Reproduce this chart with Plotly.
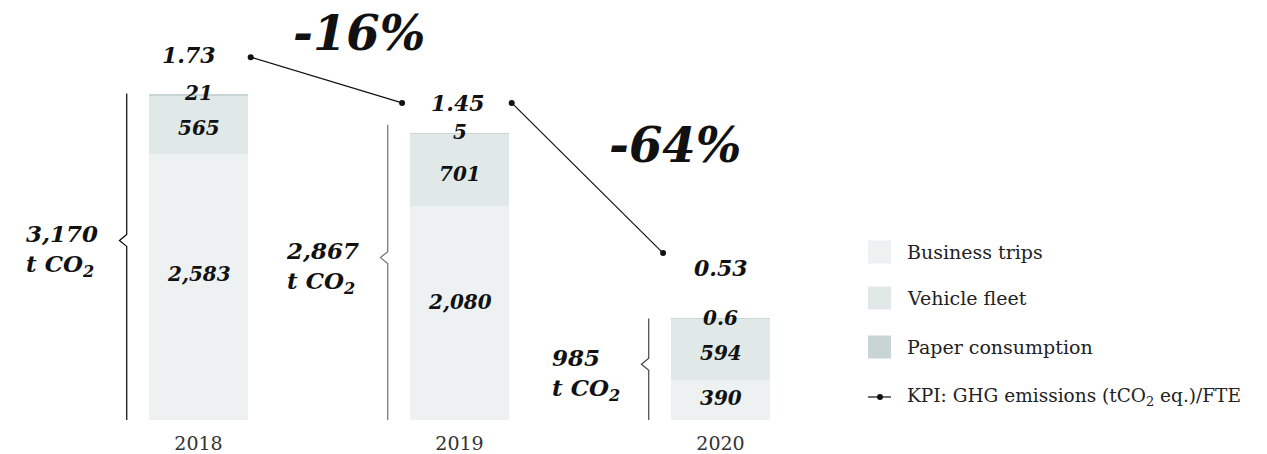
import plotly.graph_objects as go

# ---- data -------------------------------------------------------------
years = ["2018", "2019", "2020"]
business_trips = [2583, 2080, 390]
vehicle_fleet = [565, 701, 594]
paper_consumption = [21, 5, 0.6]
total_values = [3170, 2867, 985]
total_labels = ["3,170", "2,867", "985"]
kpi_values = [1.73, 1.45, 0.53]
kpi_changes = ["-16%", "-64%"]
series_names = ["Business trips", "Vehicle fleet", "Paper consumption"]
kpi_name = "KPI: GHG emissions (tCO<sub>2</sub> eq.)/FTE"

# ---- layout constants -------------------------------------------------
W, H = 1267, 454
PLOT_H = 420            # plot area height; the rest holds the year labels
X0_PX, X_UNIT = 198.5, 261.0
Y_MAX = 4078
BAR_W = 0.383

colors = ["#eef1f1", "#e1e9e8", "#c8d5d4"]
INK = "#111111"
BOLD = "DejaVu Serif"
REG = "DejaVu Serif"

xs = list(range(len(years)))


def fmt(v):
    return f"{int(v):,}" if float(v).is_integer() else f"{v}"


def px_x(px):
    return px / W


def px_y(py):
    return 1 - py / PLOT_H


fig = go.Figure()

# stacked bars
for name, vals, col in zip(series_names,
                           [business_trips, vehicle_fleet, paper_consumption],
                           colors):
    fig.add_trace(go.Bar(x=xs, y=vals, name=name, width=BAR_W,
                         marker=dict(color=col, line=dict(width=0)),
                         showlegend=False, hoverinfo="skip"))

# KPI line: two segments between neighbouring years
kpi_start, kpi_end = 0.2, 0.22
for i in range(len(kpi_values) - 1):
    fig.add_trace(go.Scatter(
        x=[i + kpi_start, i + 1 - kpi_end],
        y=[kpi_values[i], kpi_values[i + 1]],
        yaxis="y2", mode="lines+markers",
        line=dict(color=INK, width=1.2),
        marker=dict(color=INK, size=6),
        showlegend=False, hoverinfo="skip"))

annotations = []
shapes = []


def bold_font(size):
    return dict(family=BOLD, size=size, color=INK, weight="bold",
                style="italic")


# segment value labels
for i in xs:
    b, v, p = business_trips[i], vehicle_fleet[i], paper_consumption[i]
    annotations.append(dict(x=i, y=b * 0.55, xref="x", yref="y",
                            text=fmt(b), showarrow=False, font=bold_font(20)))
    annotations.append(dict(x=i, y=b + v * 0.44, xref="x", yref="y",
                            text=fmt(v), showarrow=False, font=bold_font(20)))
    annotations.append(dict(x=i, y=b + v + p, xref="x", yref="y",
                            text=fmt(p), showarrow=False, yshift=1,
                            font=bold_font(20)))

# KPI value labels
kpi_shift = [(-10, 2), (-2, 0), (0, -15)]
for i, val in enumerate(kpi_values):
    annotations.append(dict(x=i, y=val, xref="x", yref="y2",
                            text=f"{val:.2f}", showarrow=False,
                            xanchor="center", yanchor="middle",
                            xshift=kpi_shift[i][0], yshift=kpi_shift[i][1],
                            font=bold_font(22)))

# change labels
change_pos = [(359, 33), (675, 145)]
for txt, (cx, cy) in zip(kpi_changes, change_pos):
    annotations.append(dict(x=px_x(cx), y=px_y(cy), xref="paper", yref="paper",
                            xanchor="center", yanchor="middle",
                            text=txt, showarrow=False, font=bold_font(48)))

# braces with totals
brace_colors = ["#000000", "#707070", "#444444"]
dx, dy = 0.028, 58
for i, (tot, lab) in enumerate(zip(total_values, total_labels)):
    bx = i - 0.275
    ny = tot * 0.55
    path = (f"M {bx},{tot} L {bx},{ny + dy} L {bx - dx},{ny} "
            f"L {bx},{ny - dy} L {bx},0")
    shapes.append(dict(type="path", path=path, xref="x", yref="y",
                       line=dict(color=brace_colors[i], width=1.2)))
    annotations.append(dict(x=bx, y=ny, xref="x", yref="y",
                            text=f"{lab}<br>t CO<sub>2</sub>",
                            showarrow=False, align="left",
                            xanchor="right", xshift=-27,
                            yanchor="middle", yshift=-10,
                            font=bold_font(23)))

# legend
leg_x0, leg_x1, leg_tx = 868, 891, 905
leg_y = [252, 298, 347, 397]
for name, col, cy in zip(series_names, colors, leg_y):
    shapes.append(dict(type="rect", xref="paper", yref="paper",
                       x0=px_x(leg_x0), x1=px_x(leg_x1),
                       y0=px_y(cy + 11.5), y1=px_y(cy - 11.5),
                       fillcolor=col, line=dict(width=0)))
    annotations.append(dict(x=px_x(leg_tx), y=px_y(cy), xref="paper",
                            yref="paper", text=name, showarrow=False,
                            xanchor="left", yanchor="middle",
                            font=dict(family=REG, size=19, color="#222222")))
ky = leg_y[3]
shapes.append(dict(type="line", xref="paper", yref="paper",
                   x0=px_x(leg_x0), x1=px_x(leg_x1),
                   y0=px_y(ky), y1=px_y(ky), line=dict(color=INK, width=1.2)))
shapes.append(dict(type="circle", xref="paper", yref="paper",
                   x0=px_x(877), x1=px_x(883), y0=px_y(ky + 3), y1=px_y(ky - 3),
                   fillcolor=INK, line=dict(width=0)))
annotations.append(dict(x=px_x(leg_tx), y=px_y(ky), xref="paper", yref="paper",
                        text=kpi_name, showarrow=False, xanchor="left",
                        yanchor="middle",
                        font=dict(family=REG, size=18.5, color="#222222")))

x_lo = -X0_PX / X_UNIT
x_hi = (W - X0_PX) / X_UNIT

fig.update_layout(
    width=W, height=H,
    margin=dict(l=0, r=0, t=0, b=H - PLOT_H),
    barmode="stack", bargap=0,
    plot_bgcolor="white", paper_bgcolor="white",
    showlegend=False,
    xaxis=dict(range=[x_lo, x_hi], tickvals=xs, ticktext=years,
               showgrid=False, zeroline=False, showline=False, ticks="",
               tickfont=dict(family=REG, size=19, color="#333333"),
               ticklabelstandoff=10, automargin=False, fixedrange=True),
    yaxis=dict(range=[0, Y_MAX], visible=False, fixedrange=True),
    yaxis2=dict(range=[-0.492, 2.080], overlaying="y", visible=False,
                fixedrange=True),
    annotations=annotations, shapes=shapes,
)

fig.write_html("out.html")
